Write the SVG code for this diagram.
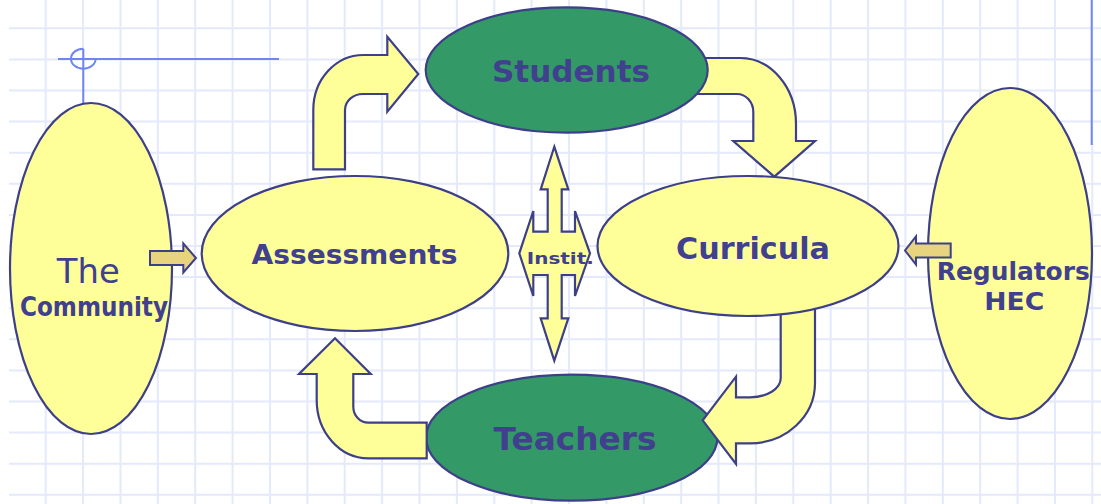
<svg xmlns="http://www.w3.org/2000/svg" width="1101" height="504" viewBox="0 0 1101 504">
<defs>
<style>
.grid{stroke:#e4e9fb;stroke-width:2;fill:none}
.deco{stroke:#6f86ee;stroke-width:2;fill:none}
.yel{fill:#ffff99;stroke:#3d4088;stroke-width:2.2}
.grn{fill:#339966;stroke:#3d4088;stroke-width:2.2}
.tan{fill:#e8d37f;stroke:#3d4088;stroke-width:2}
.lbl{font-family:"DejaVu Sans","Liberation Sans",sans-serif;font-weight:bold;fill:#40408f}
.reg{font-weight:normal}
</style>
</defs>
<rect width="1101" height="504" fill="#ffffff"/>
<g id="grid" class="grid">
<path d="M45.7,0V504M83.1,0V504M120.5,0V504M157.8,0V504M195.2,0V504M232.6,0V504M270,0V504M307.4,0V504M344.7,0V504M382.1,0V504M419.5,0V504M456.9,0V504M494.3,0V504M531.6,0V504M569,0V504M606.4,0V504M643.8,0V504M681.2,0V504M718.5,0V504M755.9,0V504M793.3,0V504M830.7,0V504M868.1,0V504M905.4,0V504M942.8,0V504M980.2,0V504M1017.6,0V504M1055,0V504M1092.3,0V504"/>
<path d="M9,28.3H1101M9,59.4H1101M9,90.5H1101M9,121.6H1101M9,152.7H1101M9,183.8H1101M9,214.9H1101M9,246H1101M9,277.1H1101M9,308.2H1101M9,339.3H1101M9,370.4H1101M9,401.5H1101M9,432.6H1101M9,463.7H1101M9,494.8H1101"/>
</g>
<g id="decoration" class="deco">
<path d="M58,59H279M83.3,48.7V103"/>
<path d="M83.3,48.7A12.3,10 0 1 0 95.6,58.7"/>
<path d="M1091.7,0V145"/>
</g>
<g id="node-teachers">
<ellipse class="grn" cx="571.7" cy="437.7" rx="145.7" ry="63"/>
<text class="lbl" x="575" y="450" font-size="31.5" text-anchor="middle" textLength="163" lengthAdjust="spacingAndGlyphs">Teachers</text>
</g>
<g id="node-community">
<ellipse class="yel" cx="91" cy="268.5" rx="81" ry="165.5"/>
<text class="lbl reg" x="88.3" y="282.7" font-size="33.5" text-anchor="middle" textLength="63" lengthAdjust="spacingAndGlyphs">The</text>
<text class="lbl" x="94" y="316" font-size="26.5" text-anchor="middle" textLength="148" lengthAdjust="spacingAndGlyphs">Community</text>
</g>
<g id="node-regulators">
<ellipse class="yel" cx="1010" cy="253.5" rx="82" ry="165.5"/>
<text class="lbl" x="1013.3" y="280" font-size="24.5" text-anchor="middle" textLength="153" lengthAdjust="spacingAndGlyphs">Regulators</text>
<text class="lbl" x="1014.2" y="310" font-size="25" text-anchor="middle" textLength="60" lengthAdjust="spacingAndGlyphs">HEC</text>
</g>
<g id="connectors">
<path id="arrow-assessments-students" class="yel" d="M313.3,169.3L313.3,110A50,55 0 0 1 363.3,55L387.3,55L387.3,36.7L418.3,74L387.3,111.7L387.3,94L363,94A18,16 0 0 0 345,110L345,169.3Z"/>
<path id="arrow-students-curricula" class="yel" d="M690,58L740,58A56,66 0 0 1 796,124L796,141L815,141L774.3,176.7L733.3,141L753.3,141L753.3,112A16.3,18 0 0 0 737,94L690,94Z"/>
<path id="arrow-curricula-teachers" class="yel" d="M780.7,300L780.7,378.3A30.7,19 0 0 1 750,397.3L736,397.3L736,376.7L702.7,420.3L736,464L736,443.3L750,443.3A65,60 0 0 0 815,383.3L815,300Z"/>
<path id="arrow-teachers-assessments" class="yel" d="M426.7,422.7L368.3,422.7A15,16 0 0 1 353.3,406.7L353.3,374L370.7,374L335,338.3L299,374L316.7,374L316.7,400A51.6,58.3 0 0 0 368.3,458.3L426.7,458.3Z"/>
<path id="arrow-community-assessments" class="tan" d="M150,251L183.3,251L183.3,243.5L196,258L183.3,272.5L183.3,265L150,265Z"/>
<path id="arrow-regulators-curricula" class="tan" d="M950.7,243.5L916,243.5L916,236.5L905,250.5L916,264.5L916,257.5L950.7,257.5Z"/>
</g>
<g id="node-students">
<ellipse class="grn" cx="566.7" cy="70" rx="141" ry="62.7"/>
<text class="lbl" x="571" y="81.7" font-size="29.5" text-anchor="middle" textLength="158" lengthAdjust="spacingAndGlyphs">Students</text>
</g>
<g id="node-curricula">
<ellipse class="yel" cx="748" cy="246" rx="150.5" ry="70"/>
<text class="lbl" x="753" y="259.3" font-size="30.5" text-anchor="middle" textLength="154" lengthAdjust="spacingAndGlyphs">Curricula</text>
</g>
<g id="node-assessments">
<ellipse class="yel" cx="355" cy="253.5" rx="153.3" ry="77.5"/>
<text class="lbl" x="354.5" y="264" font-size="26" text-anchor="middle" textLength="206" lengthAdjust="spacingAndGlyphs">Assessments</text>
</g>
<g id="node-instit">
<path class="yel" d="M554.3,146.7L568.3,189.3L561.7,189.3L561.7,231.7L575,231.7L575,211L590,253.3L575,296L575,275L561.7,275L561.7,318.3L568.3,318.3L554.3,360.7L540.7,318.3L547.7,318.3L547.7,275L533.3,275L533.3,296L519.3,253.3L533.3,211L533.3,231.7L547.7,231.7L547.7,189.3L540.7,189.3Z"/>
<text class="lbl" x="560.3" y="264.3" font-size="16" text-anchor="middle" textLength="67" lengthAdjust="spacingAndGlyphs">Instit.</text>
</g>
</svg>
